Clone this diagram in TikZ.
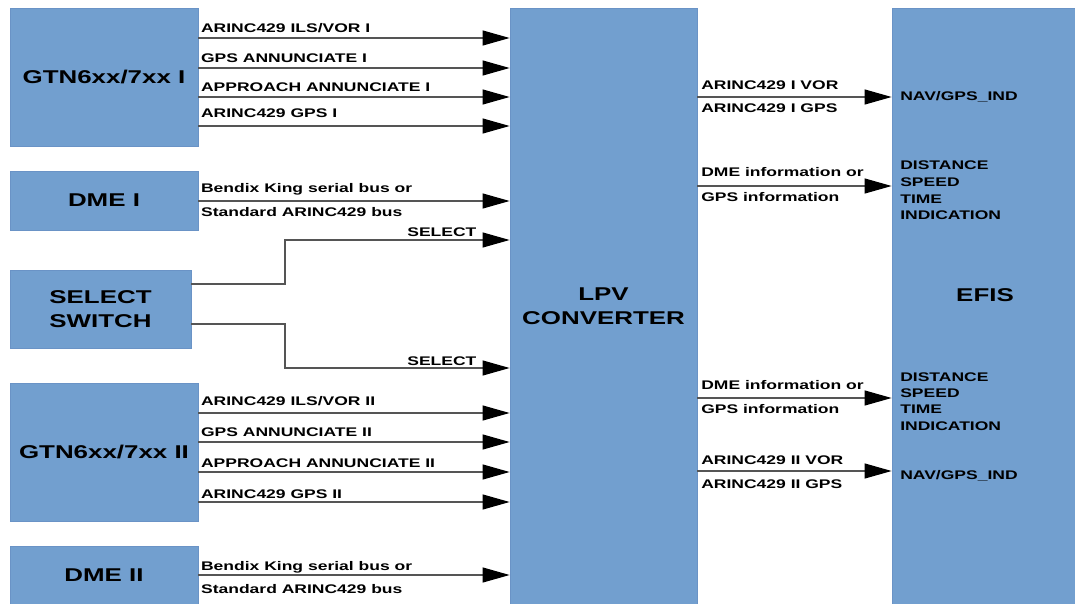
\documentclass[tikz,border=0pt]{standalone}
\usepackage{fontspec}
\usepackage{tikz}
\usetikzlibrary{positioning,arrows.meta}
\setmainfont{Liberation Sans}[FakeStretch=1.4]
\definecolor{boxfill}{HTML}{729FCF}
\definecolor{boxline}{HTML}{6A93C6}
\definecolor{wirecol}{HTML}{555555}
\tikzset{
  unit/.style={draw=boxline,fill=boxfill,line width=0.8pt,inner sep=0pt,
               font=\fontsize{18.5}{24}\selectfont\bfseries,align=center},
  sigline/.style={draw=wirecol,line width=1.1pt,
                  -{Triangle[length=27pt,width=15pt,color=black]}},
  lab/.style={font=\fontsize{12.5}{16.4}\selectfont\bfseries,inner sep=0pt,
              anchor=base west,xshift=2.5pt},
  selab/.style={font=\fontsize{12.5}{16.4}\selectfont\bfseries,inner sep=0pt,
                anchor=base east,xshift=-33pt},
}

\begin{document}
\begin{tikzpicture}[x=1pt,y=-1pt]
  \useasboundingbox (0,0) rectangle (1075,604);
  \node[unit,minimum width=188pt,minimum height=138pt] (gtnA) at (104,77) {GTN6xx/7xx I};
  \node[unit,minimum width=188pt,minimum height=59pt]  (dmeA) at (104,200.5) {DME I};
  \node[unit,minimum width=181pt,minimum height=78pt]  (sel)  at (100.5,309) {SELECT\\SWITCH};
  \node[unit,minimum width=188pt,minimum height=138pt] (gtnB) at (104,452) {GTN6xx/7xx II};
  \node[unit,minimum width=188pt,minimum height=58pt]  (dmeB) at (104,575) {DME II};
  \node[unit,minimum width=187pt,minimum height=596pt] (lpv)  at (603.5,306) {LPV\\CONVERTER};
  \node[unit,minimum width=183pt,minimum height=596pt] (efis) at (983.5,306) {};
  \node[unit,draw=none,fill=none] (efisname) at (985,295) {EFIS};

  % GTN inputs
  \foreach \ly/\ty/\txt in {38/33/{ARINC429 ILS/VOR I},68/63/{GPS ANNUNCIATE I},
                           97/92/{APPROACH ANNUNCIATE I},126/118/{ARINC429 GPS I}}{
    \draw[sigline] (gtnA.east |- 0,\ly) -- (lpv.west |- 0,\ly);
    \node[lab] (gtnAlab\ly) at (gtnA.east |- 0,\ty) {\txt};}
  \foreach \ly/\ty/\txt in {413/405/{ARINC429 ILS/VOR II},442/436/{GPS ANNUNCIATE II},
                           472/467/{APPROACH ANNUNCIATE II},502/498/{ARINC429 GPS II}}{
    \draw[sigline] (gtnB.east |- 0,\ly) -- (lpv.west |- 0,\ly);
    \node[lab] (gtnBlab\ly) at (gtnB.east |- 0,\ty) {\txt};}

  % DME inputs
  \draw[sigline] (dmeA.east |- 0,201) -- (lpv.west |- 0,201);
  \node[lab] (dmeAtop) at (dmeA.east |- 0,192.5) {Bendix King serial bus or};
  \node[lab] (dmeAbot) at (dmeA.east |- 0,216.5) {Standard ARINC429 bus};
  \draw[sigline] (dmeB.east |- 0,575) -- (lpv.west |- 0,575);
  \node[lab] (dmeBtop) at (dmeB.east |- 0,570) {Bendix King serial bus or};
  \node[lab] (dmeBbot) at (dmeB.east |- 0,593) {Standard ARINC429 bus};

  % select switch
  \coordinate (selA) at (285,240);
  \coordinate (selB) at (285,368);
  \draw[sigline] (sel.east |- 0,284) -| (selA) -- (lpv.west |- selA);
  \draw[sigline] (sel.east |- 0,324) -| (selB) -- (lpv.west |- selB);
  \node[selab] (selAlab) at (lpv.west |- 0,236) {SELECT};
  \node[selab] (selBlab) at (lpv.west |- 0,365) {SELECT};

  % outputs to EFIS
  \foreach \ly/\ta/\tb/\up/\dn in {97/{ARINC429 I VOR}/{ARINC429 I GPS}/89.3/113,
        186/{DME information or}/{GPS information}/177/201,
        398/{DME information or}/{GPS information}/389/413,
        471/{ARINC429 II VOR}/{ARINC429 II GPS}/464/488}{
    \draw[sigline] (lpv.east |- 0,\ly) -- (efis.west |- 0,\ly);
    \node[lab,xshift=1.2pt] (outtop\ly) at (lpv.east |- 0,\up) {\ta};
    \node[lab,xshift=1.2pt] (outbot\ly) at (lpv.east |- 0,\dn) {\tb};}

  \node[lab,xshift=6pt] (navA) at (efis.west |- 0,100.5) {NAV/GPS\_IND};
  \node[lab,xshift=6pt] (navB) at (efis.west |- 0,479) {NAV/GPS\_IND};
  \foreach \w/\ya/\yb in {DISTANCE/170/381,SPEED/186.5/397.5,TIME/203/413,INDICATION/219.3/430}{
    \node[lab,xshift=6pt] (distA\w) at (efis.west |- 0,\ya) {\w};
    \node[lab,xshift=6pt] (distB\w) at (efis.west |- 0,\yb) {\w};}
\end{tikzpicture}
\end{document}
